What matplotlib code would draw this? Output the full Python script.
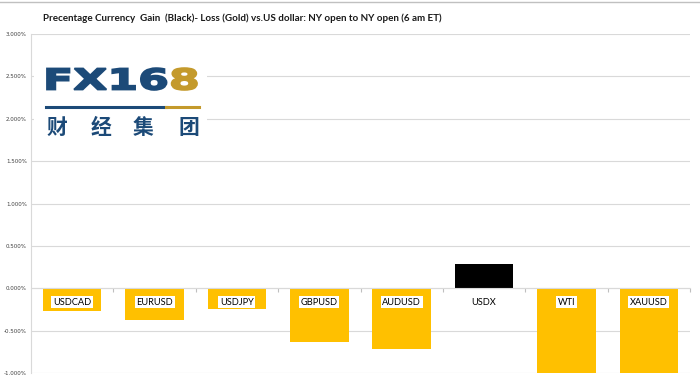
import matplotlib.pyplot as plt
from matplotlib.ticker import FuncFormatter, FixedLocator
from matplotlib.textpath import TextPath
from matplotlib.patches import PathPatch, Rectangle
from matplotlib.font_manager import FontProperties
from matplotlib.transforms import Affine2D, IdentityTransform

# values (percent change vs USD)
pairs = ["USDCAD", "EURUSD", "USDJPY", "GBPUSD", "AUDUSD", "USDX", "WTI", "XAUUSD"]
changes = [-0.27, -0.38, -0.24, -0.64, -0.72, 0.29, -1.25, -1.15]

title = "Precentage Currency  Gain  (Black)- Loss (Gold) vs.US dollar: NY open to NY open (6 am ET)"

W, H = 700, 380
fig = plt.figure(figsize=(W / 100, H / 100), dpi=100)
ax = fig.add_axes([31 / W, 1 - 373 / H, 659 / W, 339 / H])


def px(x, y):
    return x / W, 1 - y / H


colors = ["black" if v > 0 else "#FFC000" for v in changes]
x = range(len(pairs))
ax.bar(x, changes, width=0.71, color=colors, zorder=3)

ax.set_xlim(-0.5, len(pairs) - 0.5)
ax.set_ylim(-1.0, 3.0)
ax.yaxis.set_major_locator(FixedLocator([-1 + 0.5 * i for i in range(9)]))
ax.yaxis.set_major_formatter(FuncFormatter(lambda v, p: f"{v:.3f}%"))
ax.tick_params(axis="y", labelsize=4, length=0, pad=3, labelcolor="#404040")
ax.grid(axis="y", color="#d9d9d9", linewidth=0.8, zorder=0)

for s in ["top", "right"]:
    ax.spines[s].set_visible(False)
ax.spines["left"].set_color("#d9d9d9")
ax.spines["bottom"].set_position(("data", 0))
ax.spines["bottom"].set_color("#d9d9d9")
ax.spines["bottom"].set_zorder(4)
ax.set_xticks([i + 0.5 for i in range(len(pairs))])
ax.tick_params(axis="x", labelbottom=False, length=3, color="#bfbfbf", direction="out")

for i, (name, v) in enumerate(zip(pairs, changes)):
    box = None if v > 0 else dict(facecolor="white", edgecolor="none", pad=1.2)
    ax.annotate(name, xy=(i, 0), xytext=(0, -14), textcoords="offset pixels",
                ha="center", va="center", fontsize=6.7, color="black",
                family=["Lato", "DejaVu Sans"],
                bbox=box, zorder=5, annotation_clip=False)

fig.text(*px(43, 18), title, fontsize=7.1, fontweight="bold", ha="left", va="center",
         color="#1a1a1a", family=["Lato", "DejaVu Sans"])

# frame line at the top of the picture
fig.add_artist(plt.Line2D([0, 1], [1 - 2 / H, 1 - 2 / H], color="#c0c0c0", linewidth=1))

# FX168 logo: white backing, stretched letters, rule, Chinese name
blue = "#1c4a78"
gold = "#c49a2c"
fig.add_artist(Rectangle(px(34, 140), 173 / W, 95 / H, facecolor="white",
                         edgecolor="none", transform=fig.transFigure))

fp = FontProperties(family="DejaVu Sans", weight="bold")
full = TextPath((0, 0), "FX168", size=1, prop=fp)
eight = TextPath((0, 0), "8", size=1, prop=fp)
head = TextPath((0, 0), "FX16", size=1, prop=fp)
ext = full.get_extents()
sy = 21 / 0.729
sx = 150 / (ext.x1 - ext.x0)
off8 = ext.x1 - eight.get_extents().x1
for path, col, dx in [(head, blue, 0), (eight, gold, off8)]:
    tr = (Affine2D().translate(dx - ext.x0, 0).scale(sx, sy)
          .translate(47, H - 89.5) + IdentityTransform())
    fig.add_artist(PathPatch(path, facecolor=col, edgecolor=col, linewidth=1.3,
                             joinstyle="miter", transform=tr))

fig.add_artist(plt.Line2D([46 / W, 166 / W], [1 - 107 / H] * 2, color=blue, linewidth=2.2))
fig.add_artist(plt.Line2D([166 / W, 199 / W], [1 - 107 / H] * 2, color=gold, linewidth=2.2))
for cx, ch in zip([57, 101, 143, 189], "财经集团"):
    fig.text(*px(cx, 127), ch, fontsize=15, fontweight="bold", color=blue,
             ha="center", va="center", family=["Noto Sans CJK SC", "DejaVu Sans"])

fig.savefig("out.png", dpi=100)
